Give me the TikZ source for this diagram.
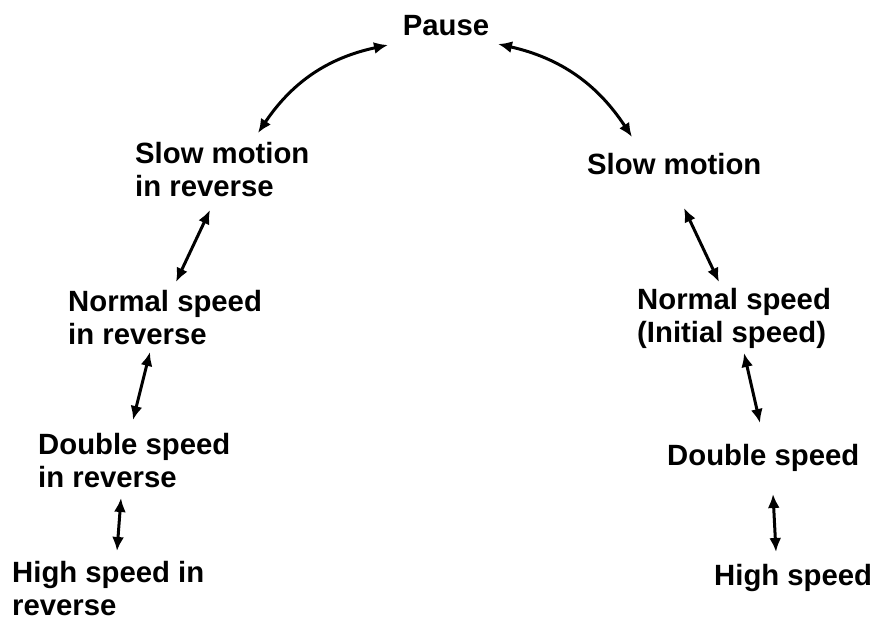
\documentclass[tikz,border=0pt]{standalone}
\usepackage{fontspec}
\setmainfont{Liberation Sans}
\usetikzlibrary{arrows.meta}

\begin{document}
\begin{tikzpicture}[x=1pt, y=-1pt]

\tikzset{
    etichetta/.style={
        inner sep=0pt,
        align=left,
        font=\fontsize{29.3}{33}\selectfont\bfseries
    }
}

\tikzset{
    freccia_doppia/.style={
        line width=3pt,
        {Latex[length=14pt,width=12pt]}-{Latex[length=14pt,width=12pt]}
    }
}

\useasboundingbox (0,0) rectangle (876,623);

% nodi
\node[etichetta] (pause) at (446,26) {Pause};

\node[etichetta, anchor=west] (slowrev) at (135,170) {Slow motion\\in reverse};
\node[etichetta, anchor=west] (normrev) at (68,318) {Normal speed\\in reverse};
\node[etichetta, anchor=west] (dblrev) at (38,461) {Double speed\\in reverse};
\node[etichetta, anchor=west] (highrev) at (12,589) {High speed in\\reverse};

\node[etichetta, anchor=west] (slow) at (587,164) {Slow motion};
\node[etichetta, anchor=west] (norm) at (637,318) {Normal speed\\(Initial speed)};
\node[etichetta, anchor=west] (dbl) at (667,458) {Double speed};
\node[etichetta, anchor=west] (high) at (714,578) {High speed};

% frecce curve
\draw[freccia_doppia] ([shift={(-58,19)}]pause.center) to[bend right=22] ([shift={(123,-37)}]slowrev.west);
\draw[freccia_doppia] ([shift={(52,18)}]pause.center) to[bend left=22] ([shift={(45,-27)}]slow.west);

% frecce a sinistra
\draw[freccia_doppia] ([shift={(75,40)}]slowrev.west) -- ([shift={(108,-36)}]normrev.west);
\draw[freccia_doppia] ([shift={(82,34)}]normrev.west) -- ([shift={(95,-41)}]dblrev.west);
\draw[freccia_doppia] ([shift={(83,37)}]dblrev.west) -- ([shift={(105,-38)}]highrev.west);

% frecce a destra
\draw[freccia_doppia] ([shift={(97,44)}]slow.west) -- ([shift={(82,-36)}]norm.west);
\draw[freccia_doppia] ([shift={(107,35)}]norm.west) -- ([shift={(93,-35)}]dbl.west);
\draw[freccia_doppia] ([shift={(106,36)}]dbl.west) -- ([shift={(62,-26)}]high.west);

\end{tikzpicture}
\end{document}
